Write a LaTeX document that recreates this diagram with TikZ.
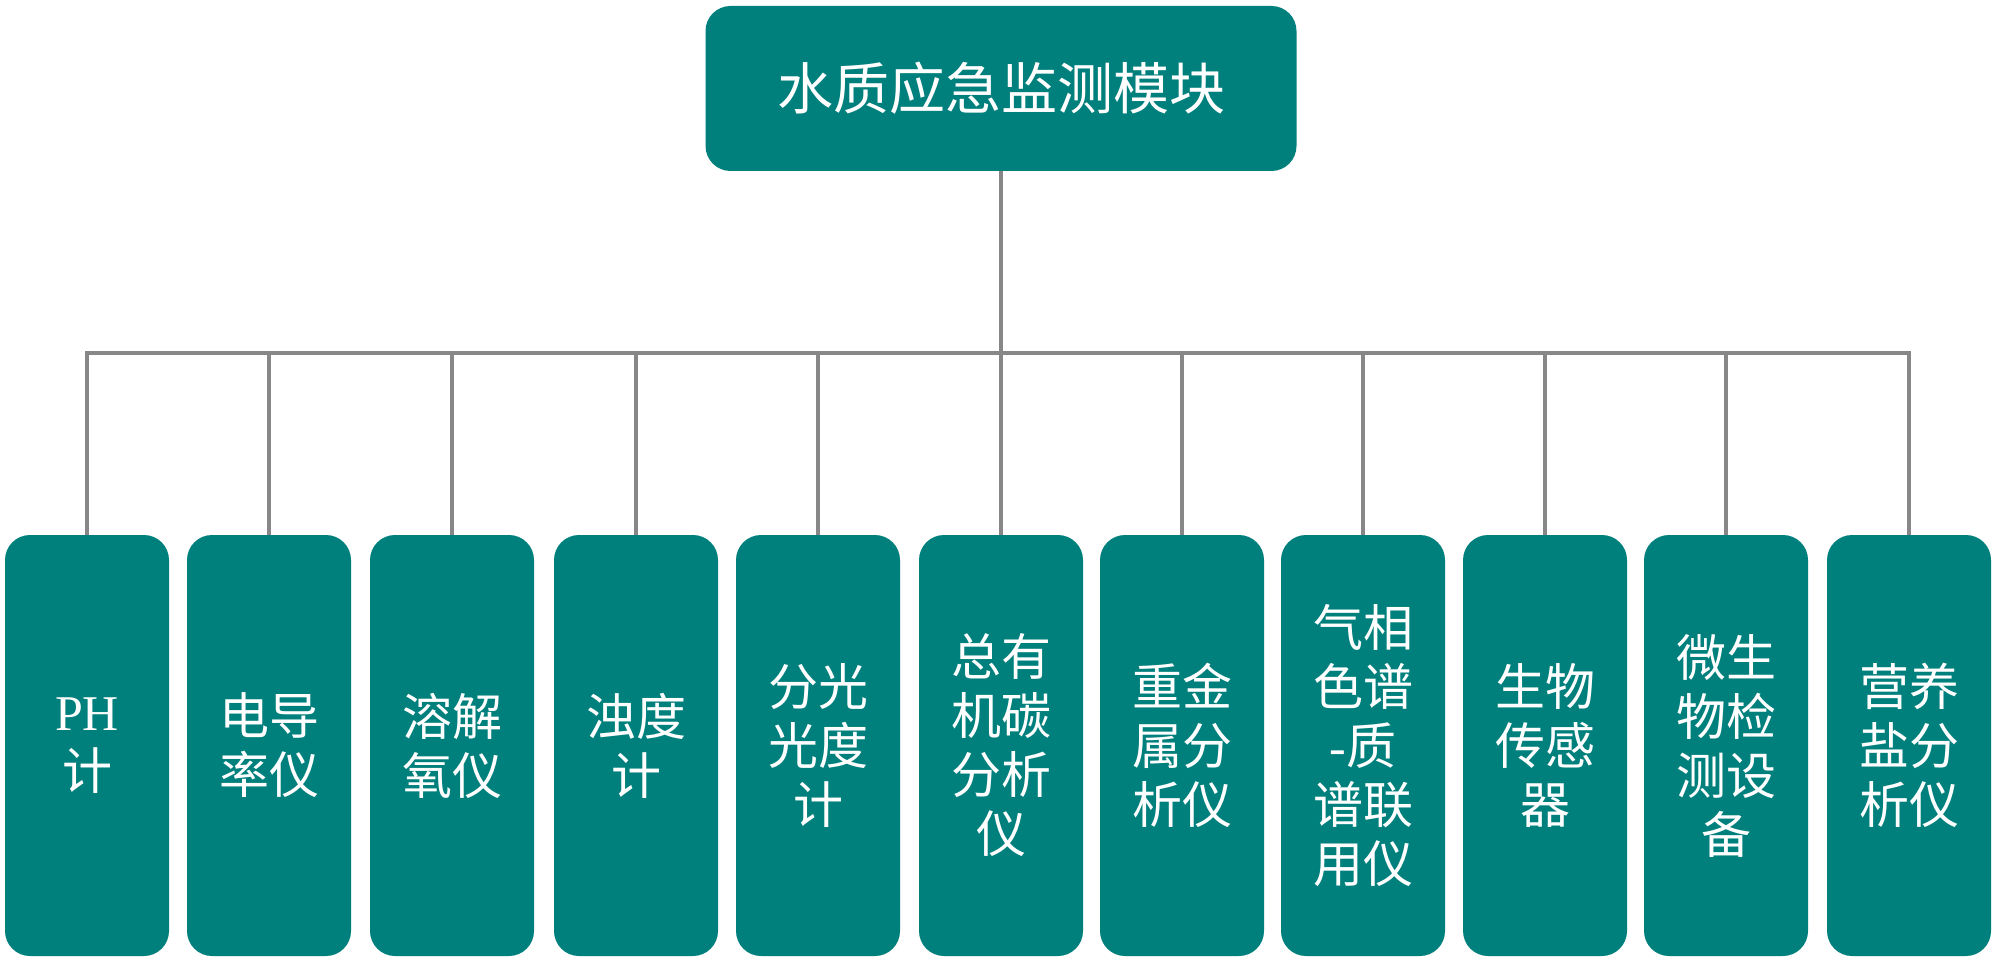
\documentclass[tikz,border=0pt]{standalone}
\usepackage{fontspec}
\setmainfont{Liberation Serif}
\newfontfamily\cjk{Noto Sans CJK SC}
\newcommand{\lat}{\rmfamily}
\definecolor{teal0}{RGB}{0,128,124}
\definecolor{lineg}{RGB}{135,135,135}
\tikzset{
  topbox/.style={fill=teal0, draw=none, rounded corners=12.5pt, minimum width=295.5pt, minimum height=82.5pt, text=white, font=\cjk\fontsize{28}{34}\selectfont, inner sep=0pt},
  leafbox/.style={fill=teal0, draw=none, rounded corners=12.5pt, minimum width=82pt, minimum height=210.5pt, text=white, font=\cjk\fontsize{25}{29.5}\selectfont, align=center, inner sep=0pt},
  conn/.style={draw=lineg, line width=1.75pt}
}
\begin{document}
\begin{tikzpicture}[x=0.5pt,y=0.5pt]
\useasboundingbox (0,0) rectangle (2000,965);
\node[topbox] (top) at (1001,876.5) {水质应急监测模块};
\coordinate (bus) at (1001,612);
\node[leafbox] (b1) at (87,219.5) {{\lat PH}\\计};
\node[leafbox] (b2) at (269,219.5) {电导\\率仪};
\node[leafbox] (b3) at (452,219.5) {溶解\\氧仪};
\node[leafbox] (b4) at (636,219.5) {浊度\\计};
\node[leafbox] (b5) at (818,219.5) {分光\\光度\\计};
\node[leafbox] (b6) at (1001,219.5) {总有\\机碳\\分析\\仪};
\node[leafbox] (b7) at (1182,219.5) {重金\\属分\\析仪};
\node[leafbox] (b8) at (1363,219.5) {气相\\色谱\\{\lat -}质\\谱联\\用仪};
\node[leafbox] (b9) at (1545,219.5) {生物\\传感\\器};
\node[leafbox] (b10) at (1726,219.5) {微生\\物检\\测设\\备};
\node[leafbox] (b11) at (1909,219.5) {营养\\盐分\\析仪};
\draw[conn] (top.south) -- (bus);
\foreach \i in {1,...,11} {
  \draw[conn] (bus) -| (b\i.north);
}
\end{tikzpicture}
\end{document}
